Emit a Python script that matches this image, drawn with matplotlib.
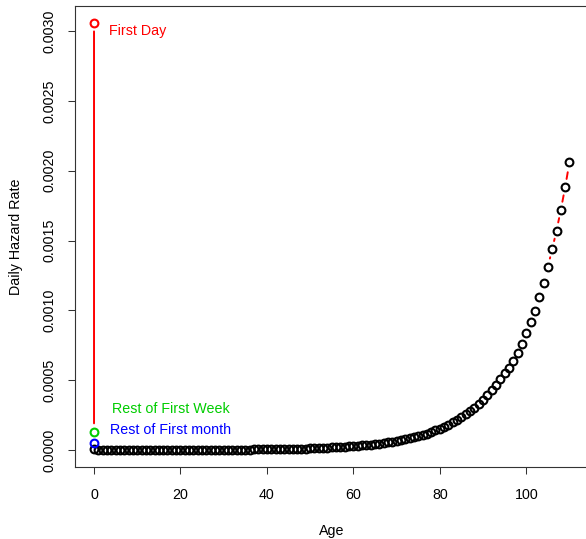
import matplotlib
matplotlib.use("Agg")
import matplotlib.pyplot as plt
import numpy as np

plt.rcParams['font.family'] = ['Liberation Sans', 'DejaVu Sans']

# ---- data ----
ages = list(range(0, 111))
hazard = [
    # 0-9
    0.0000050, 0.0000012, 0.0000008, 0.0000006, 0.0000005, 0.0000004, 0.0000004, 0.0000003, 0.0000003, 0.0000003,
    # 10-19
    0.0000003, 0.0000003, 0.0000004, 0.0000005, 0.0000006, 0.0000008, 0.0000010, 0.0000012, 0.0000013, 0.0000014,
    # 20-29
    0.0000015, 0.0000016, 0.0000016, 0.0000017, 0.0000017, 0.0000017, 0.0000018, 0.0000018, 0.0000019, 0.0000020,
    # 30-39
    0.0000021, 0.0000022, 0.0000023, 0.0000025, 0.0000027, 0.0000029, 0.0000032, 0.0000035, 0.0000038, 0.0000042,
    # 40-49
    0.0000046, 0.0000050, 0.0000055, 0.0000060, 0.0000066, 0.0000072, 0.0000079, 0.0000087, 0.0000095, 0.0000105,
    # 50-59
    0.0000115, 0.0000125, 0.0000137, 0.0000149, 0.0000162, 0.0000177, 0.0000193, 0.0000210, 0.0000229, 0.0000250,
    # 60-69
    0.0000272, 0.0000297, 0.0000323, 0.0000352, 0.0000384, 0.0000418, 0.0000456, 0.0000497, 0.0000541, 0.0000590,
    # 70-79
    0.0000643, 0.0000701, 0.0000764, 0.0000833, 0.0000908, 0.0000990, 0.0001079, 0.0001176, 0.0001282, 0.0001397,
    # 80-89
    0.0001523, 0.0001660, 0.0001809, 0.0001972, 0.0002149, 0.0002343, 0.0002554, 0.0002783, 0.0003034, 0.0003300,
    # 90-99
    0.0003600, 0.0003920, 0.0004270, 0.0004650, 0.0005060, 0.0005500, 0.0005870, 0.0006350, 0.0006950, 0.0007590,
    # 100-110
    0.0008360, 0.0009150, 0.0009980, 0.0010960, 0.0011960, 0.0013130, 0.0014380, 0.0015710, 0.0017190, 0.0018820, 0.0020610,
]

first_day = 0.003057
rest_week = 0.000131
rest_month = 0.0000523
special_age = 0

dash_start_age = 105

label_first_day = "First Day"
label_week = "Rest of First Week"
label_month = "Rest of First month"

green = "#00CD00"

# ---- figure ----
fig = plt.figure(figsize=(5.86, 5.39), dpi=100)
ax = fig.add_axes([75/586, 72/539, (588.5-75)/586, (467-6)/539])

ymax = first_day
ymin = min(hazard)
xr = (0, 110)
ax.set_xlim(xr[0] - 0.04*(xr[1]-xr[0]), xr[1] + 0.04*(xr[1]-xr[0]))
ax.set_ylim(ymin - 0.04*(ymax-ymin), ymax + 0.04*(ymax-ymin))

ms = 5.6
mew = 1.5
gap = 6.0

# red vertical line with gaps (type="b" style)
ax.annotate('', xy=(special_age, rest_week), xytext=(special_age, first_day),
            arrowprops=dict(arrowstyle='-', color='red', lw=1.4,
                            shrinkA=gap, shrinkB=gap))

# red dashed segments at the end
for a0 in range(dash_start_age, 110):
    ax.annotate('', xy=(ages[a0+1], hazard[a0+1]), xytext=(ages[a0], hazard[a0]),
                arrowprops=dict(arrowstyle='-', color='red', lw=1.4,
                                linestyle=(0, (3.5, 3.5)),
                                shrinkA=gap, shrinkB=gap))

ax.plot(ages, hazard, linestyle='none', marker='o', markersize=ms,
        markerfacecolor='none', markeredgecolor='black', markeredgewidth=mew, clip_on=False)
ax.plot([special_age], [first_day], linestyle='none', marker='o', markersize=ms,
        markerfacecolor='none', markeredgecolor='red', markeredgewidth=mew)
ax.plot([special_age], [rest_week], linestyle='none', marker='o', markersize=ms,
        markerfacecolor='none', markeredgecolor=green, markeredgewidth=mew)
ax.plot([special_age], [rest_month], linestyle='none', marker='o', markersize=ms,
        markerfacecolor='none', markeredgecolor='blue', markeredgewidth=mew)

fs = 10.3
ax.text(3.4, 0.003000, label_first_day, color='red', fontsize=fs, ha='left', va='center')
ax.text(4.2, 0.000290, label_week, color=green, fontsize=fs, ha='left', va='center')
ax.text(3.7, 0.000140, label_month, color='blue', fontsize=fs, ha='left', va='center')

ax.set_xticks([0, 20, 40, 60, 80, 100])
ax.set_yticks([0.0, 0.0005, 0.0010, 0.0015, 0.0020, 0.0025, 0.0030])
ax.set_yticklabels([f"{v:.4f}" for v in [0.0, 0.0005, 0.0010, 0.0015, 0.0020, 0.0025, 0.0030]],
                   rotation=90, va='center')
ax.tick_params(axis='both', direction='out', length=5, width=0.75, labelsize=fs, color='#333333')
ax.tick_params(axis='x', pad=10)
ax.tick_params(axis='y', pad=8)

for s in ax.spines.values():
    s.set_linewidth(0.8)
    s.set_color('#333333')
ax.spines['right'].set_visible(False)

ax.set_xlabel("Age", fontsize=fs, labelpad=16)
ax.set_ylabel("Daily Hazard Rate", fontsize=fs, labelpad=14)

fig.savefig("out.png", dpi=100)
